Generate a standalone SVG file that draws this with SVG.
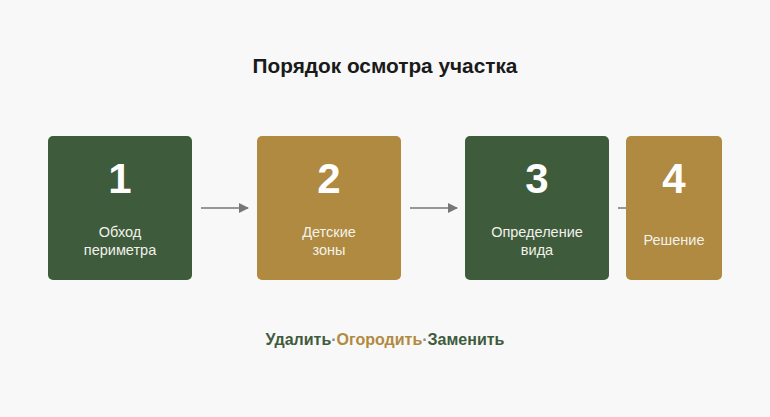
<svg xmlns="http://www.w3.org/2000/svg" width="770" height="417" viewBox="0 0 770 417">
<defs>
<marker id="ah" markerWidth="10" markerHeight="10" refX="9" refY="5" orient="auto" markerUnits="userSpaceOnUse">
<path d="M0,0 L10,5 L0,10 z" fill="#777777"/>
</marker>
<style>
.g{fill:#3e5b3c}
.o{fill:#b08a40}
.num{font-family:"Liberation Sans",Arial,sans-serif;font-weight:bold;font-size:42px;fill:#ffffff;text-anchor:middle}
.lbl{font-family:"Liberation Sans",Arial,sans-serif;font-size:14.5px;fill:#f2f2ea;text-anchor:middle}
.con{stroke:#777777;stroke-width:1.5;fill:none}
</style>
</defs>
<rect width="770" height="417" fill="#f8f8f8"/>
<text x="385" y="73" font-family="'Liberation Sans',Arial,sans-serif" font-weight="bold" font-size="20.8" fill="#1a1a1a" text-anchor="middle">Порядок осмотра участка</text>
<g id="connectors">
<line class="con" x1="201" y1="208" x2="248" y2="208" marker-end="url(#ah)"/>
<line class="con" x1="410" y1="208" x2="457" y2="208" marker-end="url(#ah)"/>
<line class="con" x1="618" y1="208" x2="640" y2="208"/>
</g>
<g id="node1">
<rect class="g" x="48" y="136" width="144" height="144" rx="5"/>
<text class="num" x="120" y="193">1</text>
<text class="lbl" x="120" y="237">Обход</text>
<text class="lbl" x="120" y="255">периметра</text>
</g>
<g id="node2">
<rect class="o" x="257" y="136" width="144" height="144" rx="5"/>
<text class="num" x="329" y="193">2</text>
<text class="lbl" x="329" y="237">Детские</text>
<text class="lbl" x="329" y="255">зоны</text>
</g>
<g id="node3">
<rect class="g" x="465" y="136" width="144" height="144" rx="5"/>
<text class="num" x="537" y="193">3</text>
<text class="lbl" x="537" y="237">Определение</text>
<text class="lbl" x="537" y="255">вида</text>
</g>
<g id="node4">
<rect class="o" x="626" y="136" width="96" height="144" rx="5"/>
<text class="num" x="674" y="193">4</text>
<text class="lbl" x="674" y="245">Решение</text>
</g>
<text x="385" y="345" font-family="'Liberation Sans',Arial,sans-serif" font-weight="bold" font-size="16" text-anchor="middle"><tspan fill="#3e5b3c">Удалить</tspan><tspan fill="#888888">·</tspan><tspan fill="#b08a40">Огородить</tspan><tspan fill="#888888">·</tspan><tspan fill="#3e5b3c">Заменить</tspan></text>
</svg>
